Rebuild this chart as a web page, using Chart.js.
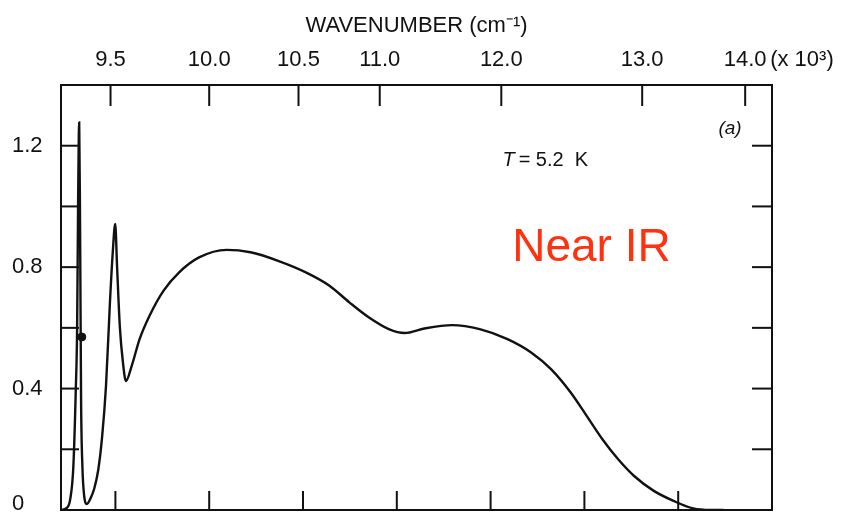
<!DOCTYPE html>
<html>
<head>
<meta charset="utf-8">
<script src="https://cdn.jsdelivr.net/npm/chart.js@4.4.1/dist/chart.umd.min.js"></script>
<style>
  body { margin: 0; background: #fff; }
  #wrap { width: 841px; height: 515px; }
</style>
</head>
<body>
<div id="wrap"><canvas id="spectrum"></canvas></div>
<script>
// wavelength (nm), left to right
const wavelength = [1078.7, 1076.3, 1074.1, 1072.4, 1071.1, 1070.4, 1069.9, 1069.3, 1068.8, 1068.3,
  1067.6, 1066.7, 1065.2, 1063.5, 1061.3, 1059.2, 1057.1, 1055.0, 1052.9, 1051.4, 1050.1,
  1049.1, 1047.6, 1046.0, 1044.4, 1041.3, 1037.1, 1031.8, 1024.4, 1016.0, 1005.4,
  990.7, 978.0, 963.3, 948.5, 935.9, 925.3, 914.8, 904.3, 895.8, 885.3,
  870.5, 855.8, 841.0, 828.4, 817.8, 807.3, 798.8, 790.4, 782.0, 773.5,
  763.0, 752.5, 742.0, 732.8, 725.9];
const sigma = [0.0, 0.005, 0.035, 0.145, 0.40, 0.60, 1.0, 1.277, 0.9, 0.365,
  0.145, 0.05, 0.02, 0.035, 0.07, 0.13, 0.24, 0.41, 0.685, 0.85, 0.942,
  0.80, 0.60, 0.487, 0.425, 0.475, 0.563, 0.640, 0.722, 0.783, 0.832,
  0.857, 0.849, 0.821, 0.783, 0.739, 0.684, 0.634, 0.596, 0.583, 0.598,
  0.609, 0.596, 0.563, 0.519, 0.464, 0.387, 0.310, 0.233, 0.167, 0.112,
  0.063, 0.030, 0.005, 0.0, 0.0];

// the single black dot on the left spike
const markerX = [1067.9];
const markerY = [0.57];

// top axis: wavenumber labels and where their ticks sit (nm)
const topTickLabels = ['9.5', '10.0', '10.5', '11.0', '12.0', '13.0', '14.0'];
const topTickPos = [1052.6, 1000, 952.4, 909.1, 844.3, 769.2, 714.3];
// unlabelled bottom ticks (nm)
const bottomTickPos = [1050, 1000, 950, 900, 850, 800, 750];
// y labels shown only on these values
const yLabelled = [0.4, 0.8, 1.2];

const FONT = '"Liberation Sans", Arial, sans-serif';

const frameTicks = {
    id: 'frameTicks',
    afterDatasetsDraw(chart) {
        const {ctx, chartArea: a, scales} = chart;
        const line = (x1, y1, x2, y2) => {
            ctx.beginPath(); ctx.moveTo(x1, y1); ctx.lineTo(x2, y2); ctx.stroke();
        };
        ctx.save();
        ctx.strokeStyle = '#111';
        ctx.lineWidth = 2;
        ctx.strokeRect(a.left, a.top, a.right - a.left, a.bottom - a.top);
        scales.y.ticks.forEach(t => {
            if (t.value <= 0 || t.value >= 1.4) return;
            const y = scales.y.getPixelForValue(t.value);
            line(a.left, y, a.left + 18, y);
            line(a.right, y, a.right - 20, y);
        });
        topTickPos.forEach(v => {
            const x = scales.x2.getPixelForValue(v);
            line(x, a.top, x, a.top + 21);
        });
        bottomTickPos.forEach(v => {
            const x = scales.x.getPixelForValue(v);
            line(x, a.bottom, x, a.bottom - 19);
        });

        ctx.fillStyle = '#111';
        ctx.textBaseline = 'middle';
        ctx.textAlign = 'left';
        ctx.font = '22px ' + FONT;
        // zero label sits a little above the bottom edge
        ctx.fillText('0', 12, scales.y.getPixelForValue(0) - 6);
        // (x 10^3) after the 14.0 label
        ctx.fillText('(x 10³)', scales.x2.getPixelForValue(714.3) + 25, 60);

        // T = 5.2 K
        const tx = scales.x.getPixelForValue(843.7);
        const ty = scales.y.getPixelForValue(1.15);
        ctx.font = 'italic 20px ' + FONT;
        ctx.fillText('T', tx, ty);
        const tw = ctx.measureText('T').width;
        ctx.font = '20px ' + FONT;
        ctx.fillText('= 5.2  K', tx + tw + 4, ty);

        // panel label
        ctx.font = 'italic 19px ' + FONT;
        ctx.textAlign = 'center';
        ctx.fillText('(a)', a.right - 42, a.top + 44);

        // Near IR
        ctx.fillStyle = '#ff3210';
        ctx.font = '46px ' + FONT;
        ctx.textAlign = 'left';
        ctx.textBaseline = 'alphabetic';
        ctx.fillText('Near IR', scales.x.getPixelForValue(838.5), scales.y.getPixelForValue(0.82));
        ctx.restore();
    }
};

new Chart(document.getElementById('spectrum'), {
    type: 'line',
    data: {
        datasets: [{
            data: wavelength.map((w, i) => ({x: w, y: sigma[i]})),
            borderColor: '#111',
            borderWidth: 2.4,
            pointRadius: 0,
            cubicInterpolationMode: 'monotone',
            fill: false
        },
        {
            data: markerX.map((w, i) => ({x: w, y: markerY[i]})),
            showLine: false,
            pointRadius: 4,
            pointBackgroundColor: '#111',
            pointBorderColor: '#111'
        }]
    },
    options: {
        responsive: true,
        maintainAspectRatio: false,
        animation: false,
        layout: {
            padding: {left: 12, right: 69, top: 8, bottom: 4}
        },
        plugins: {
            legend: {display: false},
            tooltip: {enabled: false}
        },
        scales: {
            x: {
                type: 'linear',
                min: 700,
                max: 1079,
                reverse: true,
                display: false
            },
            x2: {
                type: 'linear',
                position: 'top',
                min: 700,
                max: 1079,
                reverse: true,
                afterBuildTicks: s => { s.ticks = topTickPos.map(v => ({value: v})); },
                afterFit: s => { s.height = 77; },
                grid: {display: false, drawTicks: false},
                border: {display: false},
                ticks: {
                    autoSkip: false,
                    maxRotation: 0,
                    padding: 12,
                    color: '#111',
                    font: {family: FONT, size: 22},
                    callback: (v, i) => topTickLabels[i]
                },
                title: {
                    display: true,
                    text: 'WAVENUMBER (cm⁻¹)',
                    color: '#111',
                    font: {family: FONT, size: 22},
                    padding: {top: 5, bottom: 0}
                }
            },
            y: {
                min: 0,
                max: 1.4,
                afterFit: s => { s.width = 49; s.paddingTop = 0; s.paddingBottom = 0; },
                grid: {display: false, drawTicks: false},
                border: {display: false},
                ticks: {
                    stepSize: 0.2,
                    crossAlign: 'far',
                    color: '#111',
                    font: {family: FONT, size: 22},
                    callback: v => {
                        const r = Math.round(v * 10) / 10;
                        return yLabelled.includes(r) ? r.toFixed(1) : '';
                    }
                }
            }
        }
    },
    plugins: [frameTicks]
});
</script>
</body>
</html>
